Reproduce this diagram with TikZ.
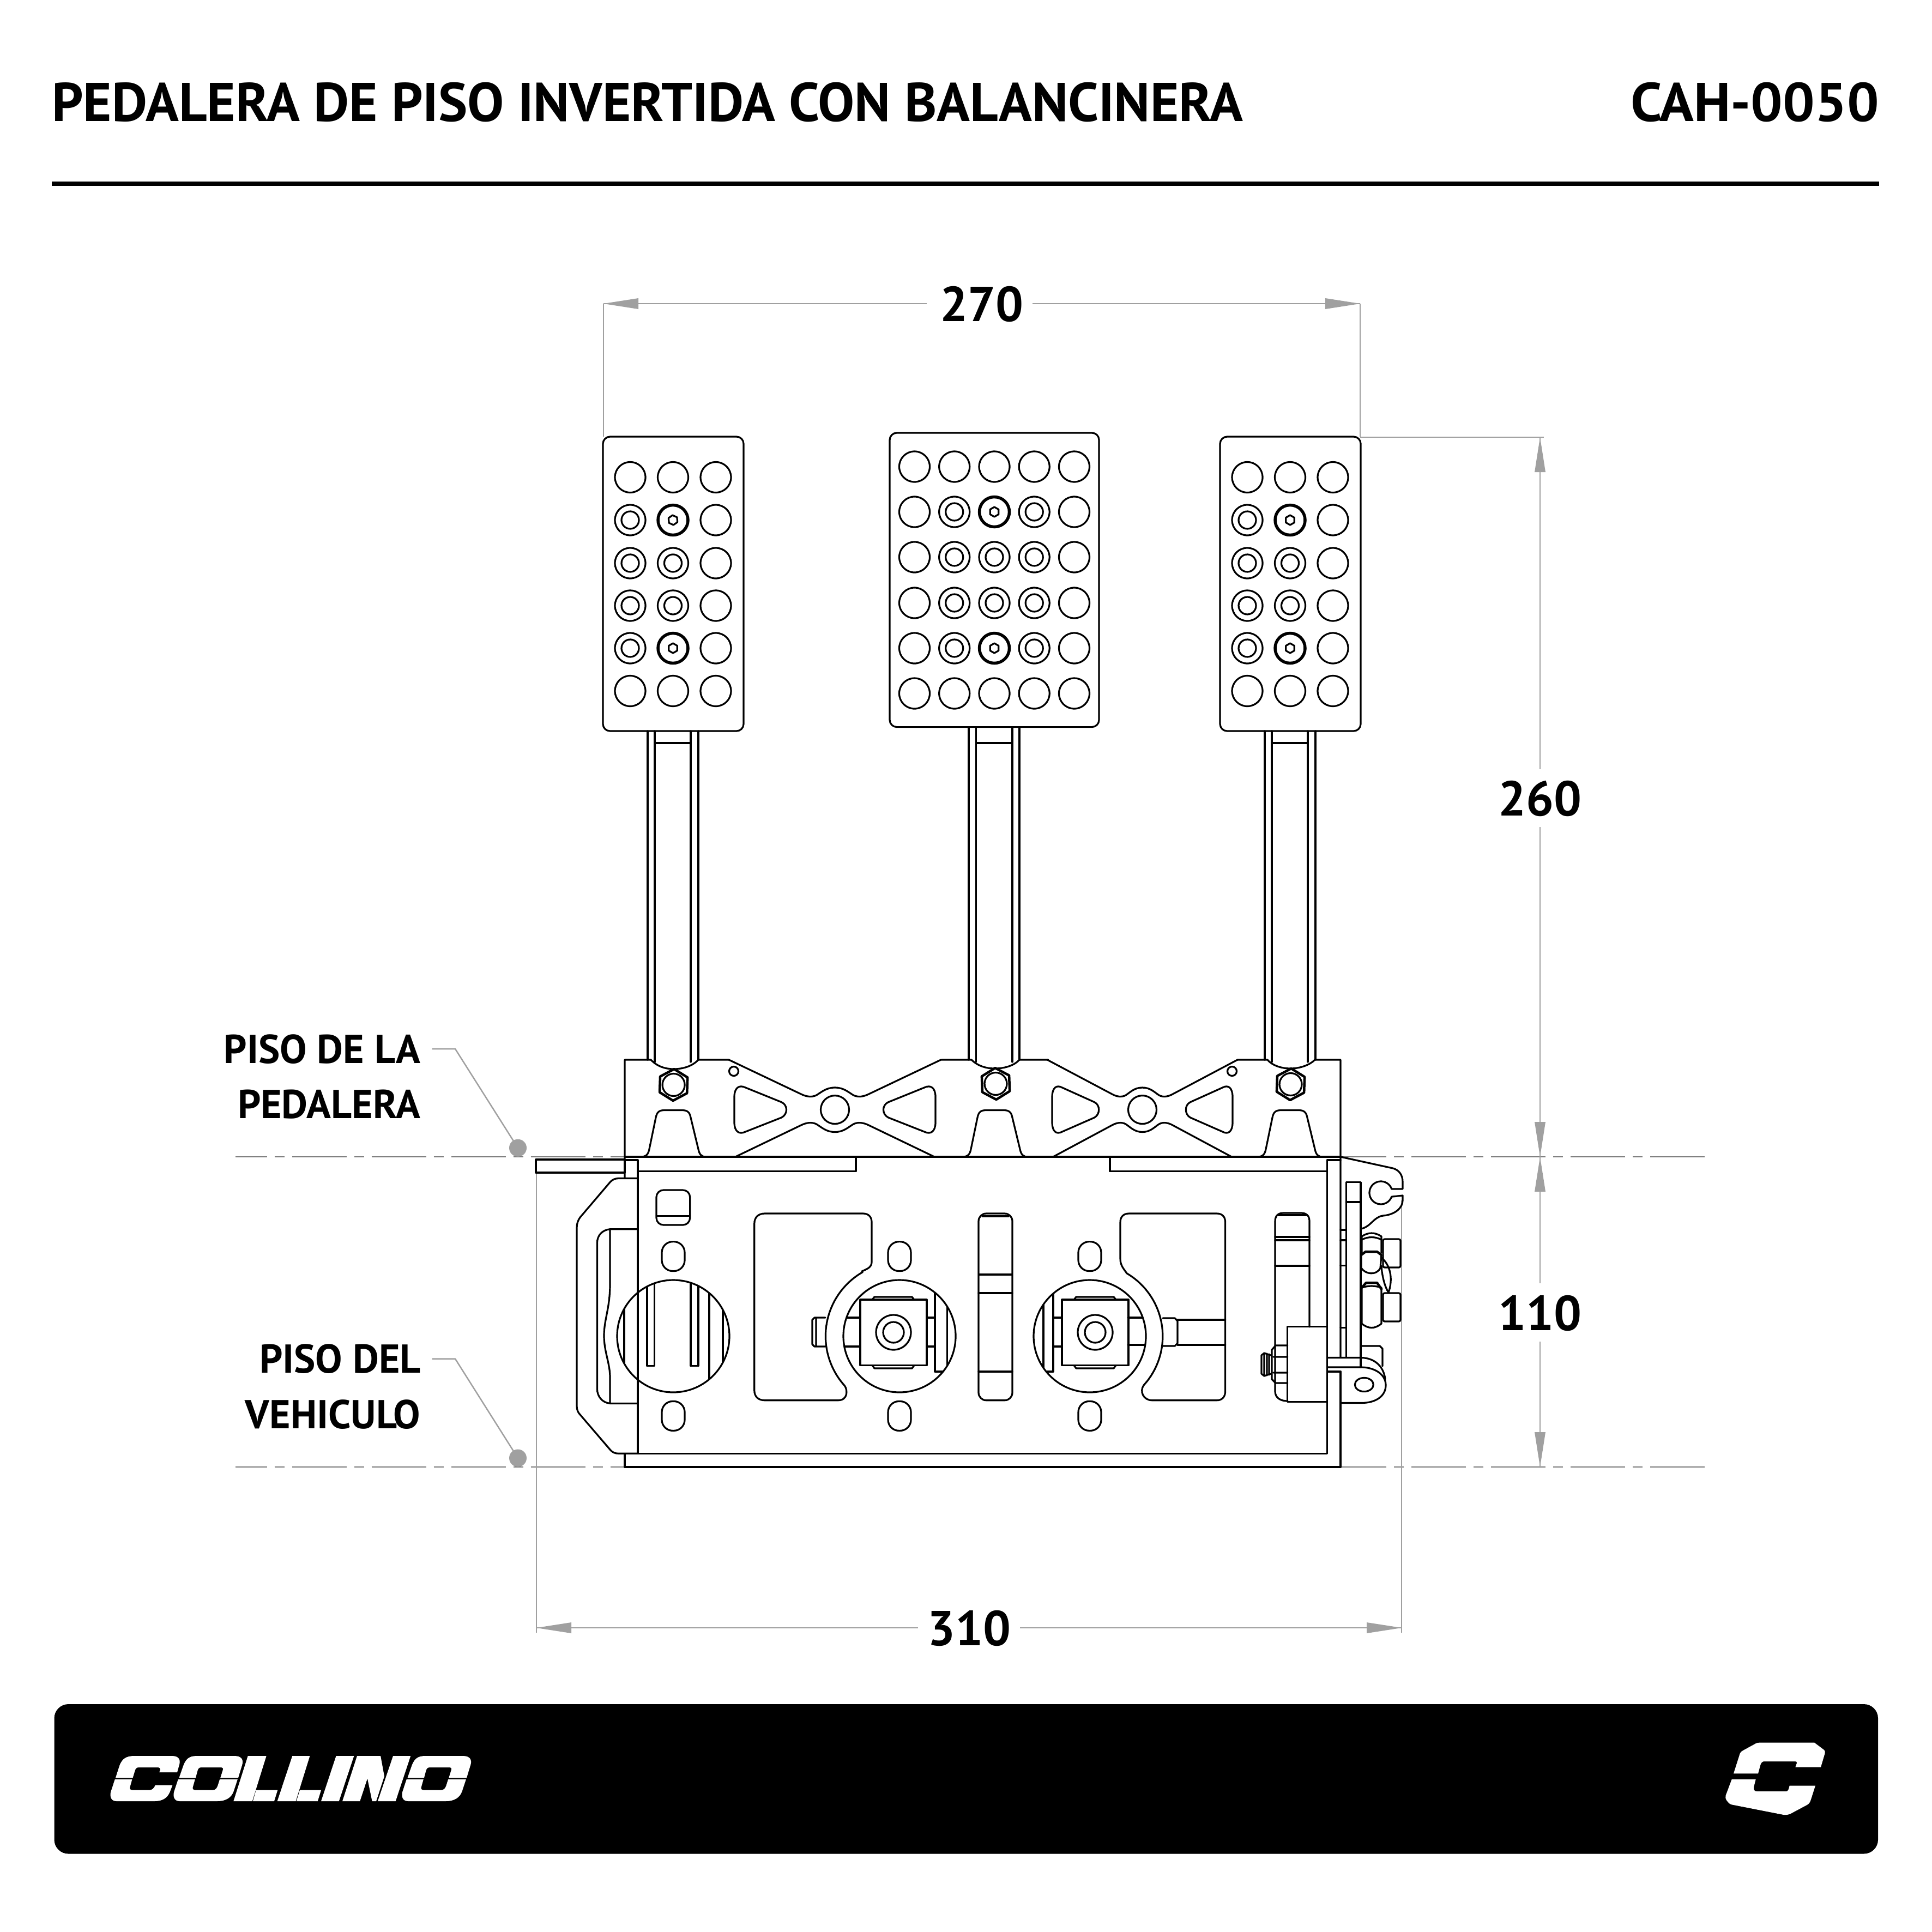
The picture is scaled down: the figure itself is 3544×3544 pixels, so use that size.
\documentclass[tikz,border=0pt]{standalone}
\usepackage{fontspec}
\newfontfamily\dinfont{PT Sans}
\newfontfamily\dintitle{PT Sans}[FakeStretch=1.005]
\newfontfamily\dincode{PT Sans}[FakeStretch=1.036]
\definecolor{dimgray}{HTML}{A0A0A0}
\definecolor{axisgray}{HTML}{7A7A7A}
\tikzset{
  part/.style={draw=black,line width=3.2pt,line join=round,line cap=round},
  heavy/.style={draw=black,line width=4.5pt,line join=round},
  boldring/.style={draw=black,line width=5.5pt},
  dimline/.style={draw=dimgray,line width=2.5pt},
  dimtip/.style={fill=dimgray,draw=none},
  axisline/.style={draw=axisgray,line width=2.5pt,dash pattern=on 100pt off 14pt on 18pt off 14pt},
  titletext/.style={inner sep=0pt,font=\dintitle\bfseries\fontsize{100}{120}\selectfont},
  codetext/.style={inner sep=0pt,font=\dincode\bfseries\fontsize{100}{120}\selectfont},
  labeltext/.style={inner sep=0pt,anchor=base east,font=\dinfont\bfseries\fontsize{74}{88}\selectfont},
  dimtext/.style={inner sep=0pt,font=\dinfont\bfseries\fontsize{90}{100}\selectfont},
}
% hexagon: x y radius rotation
\newcommand{\hexat}[5][part]{\draw[#1,shift={(#2,#3)}] (#5:#4) -- (#5+60:#4) -- (#5+120:#4) -- (#5+180:#4) -- (#5+240:#4) -- (#5+300:#4) -- cycle;}
\newcommand{\ring}[2]{\draw[part] (#1,#2) circle[radius=28];\draw[part] (#1,#2) circle[radius=16];}
\newcommand{\plain}[2]{\draw[part] (#1,#2) circle[radius=28];}
\newcommand{\boltring}[3]{\draw[boldring] (#1,#2) circle[radius=27.5];\hexat{#1}{#2}{9}{#3}}
\newcommand{\sidepedal}[2]{%
 \begin{scope}[shift={(#1,0)}]
  \draw[part,rounded corners=13] (1106,801) rectangle (1364,1341);
  \foreach \yy in {875.5,1267.5}{\foreach \xx in {1156,1234.5,1313}{\plain{\xx}{\yy}}}
  \foreach \yy in {954,1033,1111,1189}{\plain{1313}{\yy}\ring{1156}{\yy}}
  \ring{1234.5}{1033}\ring{1234.5}{1111}
  \boltring{1234.5}{954}{#2}\boltring{1234.5}{1189}{90}
  \draw[part] (1188,1341) -- (1188,1944) (1201,1341) -- (1201,1948) (1267,1341) -- (1267,1948) (1281,1341) -- (1281,1944) (1201,1363) -- (1267,1363);
 \end{scope}}
\newcommand{\arch}[1]{\draw[part,shift={(#1,0)}] (-60,2122) .. controls (-50,2122) and (-46,2118) .. (-44,2108) -- (-32,2050) .. controls (-30,2040) and (-26,2036.5) .. (-16,2036.5) -- (16,2036.5) .. controls (26,2036.5) and (30,2040) .. (32,2050) -- (46,2108) .. controls (48,2118) and (52,2122) .. (60,2122);}
\newcommand{\slotpair}[1]{\foreach \yy in {2304.6,2597.4}{\draw[part,rounded corners=20] (#1-21,\yy-27) rectangle (#1+21,\yy+27);}}
\newcommand{\xmotif}[2]{%
 \begin{scope}[shift={(#1,0)},xscale=#2]
  \draw[part] (-194.5,1944) -- (-62,2007) .. controls (-52,2012) and (-42,2013) .. (-34,2009) .. controls (-24,2003) and (-16,1995) .. (0,1995) .. controls (16,1995) and (24,2003) .. (34,2009) .. controls (42,2013) and (52,2012) .. (62,2007) -- (194.5,1944);
  \draw[part] (-182.5,2122) -- (-62,2064) .. controls (-52,2059) and (-42,2058) .. (-34,2062) .. controls (-24,2068) and (-16,2076.5) .. (0,2076.5) .. controls (16,2076.5) and (24,2068) .. (34,2062) .. controls (42,2058) and (52,2059) .. (62,2064) -- (182.5,2122);
  \foreach \ss in {1,-1}{
  \draw[part,xscale=\ss] (-184.5,2012) .. controls (-184.5,1996) and (-176,1989) .. (-164,1995) -- (-98,2021.7) .. controls (-86,2027) and (-86,2044) .. (-98,2050) -- (-164,2076) .. controls (-176,2082) and (-184.5,2075) .. (-184.5,2059) -- cycle;}
 \end{scope}
 \draw[part] (#1,2035.6) circle[radius=26];}
\newcommand{\ologo}{%
 \fill[white] (398,484) -- (412,415) .. controls (420,380) and (430,363) .. (455,363) -- (575,363) .. controls (598,363) and (604,385) .. (600,410) -- (587,484) -- (530,484) -- (538,440) .. controls (540,430) and (537,426) .. (530,426) -- (470,426) .. controls (462,426) and (459,432) .. (457,445) -- (451,484) -- cycle;
 \fill[white] (395,492) -- (449,492) -- (442,535) .. controls (440,546) and (444,551) .. (452,551) -- (505,551) .. controls (515,551) and (519,540) .. (522,525) -- (528,492) -- (585,492) -- (572,560) .. controls (565,590) and (550,612) .. (520,612) -- (400,612) .. controls (382,612) and (378,585) .. (382,560) -- cycle;}
\begin{document}
\begin{tikzpicture}[x=1pt,y=-1pt]
\useasboundingbox (0,0) rectangle (3544,3544);
\fill[white] (0,0) rectangle (3544,3544);
% header
\node[titletext,anchor=base west] (title) at (95,222) {PEDALERA DE PISO INVERTIDA CON BALANCINERA};
\node[codetext,anchor=base east] (code) at (3447,222) {CAH-0050};
\draw[line width=7.5pt,black] (95,337) -- (3447,337);
% footer band
\fill[black,rounded corners=26] (99.5,3126) rectangle (3445,3400.5);
\begin{scope}[shift={(100,3100)},xscale=0.574,yscale=0.3333]
 % C
 \fill[white] (195,484) -- (208,415) .. controls (216,380) and (228,363) .. (255,363) -- (375,363) .. controls (398,363) and (403,385) .. (399,410) -- (392,453) -- (335,453) -- (338,438) .. controls (339,430) and (335,426) .. (328,426) -- (270,426) .. controls (262,426) and (259,432) .. (257,445) -- (250,484) -- cycle;
 \fill[white] (193,492) -- (248,492) -- (241,535) .. controls (239,546) and (243,551) .. (251,551) -- (303,551) .. controls (313,551) and (318,540) .. (322,524) -- (377,524) -- (369,560) .. controls (362,590) and (348,612) .. (320,612) -- (198,612) .. controls (180,612) and (176,585) .. (180,560) -- cycle;
 \ologo
 \begin{scope}[shift={(730,0)}]\ologo\end{scope}
 % L L I N
 \fill[white] (618,363) -- (677,363) -- (632,612) -- (572,612) -- cycle;
 \fill[white] (644,551) -- (713,551) -- (702,612) -- (634,612) -- cycle;
 \fill[white] (760,363) -- (816,363) -- (771,612) -- (712,612) -- cycle;
 \fill[white] (784,551) -- (852,551) -- (841,612) -- (773,612) -- cycle;
 \fill[white] (900,363) -- (957,363) -- (909,612) -- (852,612) -- cycle;
 \fill[white] (967,363) -- (1042,363) -- (1054,475) -- (1028,612) -- (1015,612) -- (1000,487) -- (976,612) -- (920,612) -- cycle;
 \fill[white] (1082,363) -- (1138,363) -- (1090,612) -- (1033,612) -- cycle;
\end{scope}
\begin{scope}[shift={(3100,3150)},xscale=0.3333,yscale=0.3333]
 \fill[white] (240,310) -- (275,200) .. controls (280,190) and (285,187) .. (292,183) -- (365,143) .. controls (372,140) and (378,140) .. (385,140) -- (685,140) -- (738,180) .. controls (743,185) and (745,190) .. (743,197) -- (720,275) -- (580,275) -- (588,253) .. controls (590,246) and (586,243) .. (580,243) -- (410,243) .. controls (398,243) and (392,250) .. (388,262) -- (375,310) -- cycle;
 \fill[white] (230,342) -- (362,342) -- (351,385) .. controls (349,400) and (355,408) .. (370,408) -- (530,408) .. controls (540,408) and (544,395) .. (548,377) -- (690,377) -- (665,455) .. controls (660,470) and (655,478) .. (640,485) -- (552,532) .. controls (540,537) and (530,538) .. (515,537) -- (230,481) .. controls (218,478) and (212,472) .. (200,455) .. controls (195,445) and (195,440) .. (197,430) -- cycle;
\end{scope}
% axis lines
\foreach \yy in {2122,2691}{
 \draw[axisline,dash phase=42pt] (431.5,\yy) -- (1146,\yy);
 \draw[axisline] (3127,\yy) -- (2459,\yy);
}
% dimensions
\draw[dimline] (1107,557) -- (1107,801) (2495,557) -- (2495,801);
\draw[dimline] (1107,557) -- (1700,557) (1894,557) -- (2495,557);
\fill[dimtip] (1107,557) -- (1171,547) -- (1171,567) -- cycle;
\fill[dimtip] (2495,557) -- (2431,547) -- (2431,567) -- cycle;
\node[dimtext] (d270) at (1801,558) {270};
\draw[dimline] (2495,802) -- (2832,802);
\draw[dimline] (2825,802) -- (2825,1411) (2825,1517) -- (2825,2122) (2825,2122) -- (2825,2354) (2825,2461) -- (2825,2691);
\fill[dimtip] (2825,802) -- (2815,866) -- (2835,866) -- cycle;
\fill[dimtip] (2825,2122) -- (2815,2058) -- (2835,2058) -- cycle;
\fill[dimtip] (2825,2122) -- (2815,2186) -- (2835,2186) -- cycle;
\fill[dimtip] (2825,2691) -- (2815,2627) -- (2835,2627) -- cycle;
\node[dimtext] (d260) at (2825,1465) {260};
\node[dimtext] (d110) at (2825,2409) {110};
\draw[dimline] (984,2151) -- (984,2995) (2571,2202) -- (2571,2995);
\draw[dimline] (984,2986) -- (1684,2986) (1871,2986) -- (2571,2986);
\fill[dimtip] (984,2986) -- (1048,2976) -- (1048,2996) -- cycle;
\fill[dimtip] (2571,2986) -- (2507,2976) -- (2507,2996) -- cycle;
\node[dimtext] (d310) at (1778,2987) {310};
% floor labels
\node[labeltext] (l1) at (771,1950.5) {PISO DE LA};
\node[labeltext] (l2) at (771,2051) {PEDALERA};
\node[labeltext] (l3) at (772,2518) {PISO DEL};
\node[labeltext] (l4) at (771,2620) {VEHICULO};
\fill[dimgray] (950,2105.7) circle[radius=16];
\fill[dimgray] (950,2674.6) circle[radius=16];
\draw[dimline,line join=round] (792.6,1924) -- (835,1924) -- (950,2105.7);
\draw[dimline,line join=round] (792.6,2492.5) -- (835,2492.5) -- (950,2674.6);
% pedals
\sidepedal{0}{85}
\sidepedal{1132}{90}
\draw[part,rounded corners=13] (1632,794) rectangle (2016,1333.6);
\foreach \yy in {856,939,1022,1106,1189,1272}{\plain{1677.5}{\yy}\plain{1970.5}{\yy}}
\foreach \xx in {1750.7,1824,1897.2}{\plain{\xx}{856}\plain{\xx}{1272}}
\foreach \yy in {939,1022,1106,1189}{\ring{1750.7}{\yy}\ring{1897.2}{\yy}}
\ring{1824}{1022}\ring{1824}{1106}
\boltring{1824}{939}{90}\boltring{1824}{1189}{90}
\draw[part] (1777,1333.6) -- (1777,1944) (1790.5,1333.6) -- (1790.5,1948) (1857,1333.6) -- (1857,1948) (1870,1333.6) -- (1870,1944) (1790.5,1363) -- (1857,1363);
% upper bracket outline
\draw[part] (1146,2161) -- (1146,1944) -- (1194,1944) .. controls (1205,1956) and (1220,1961) .. (1236,1961) .. controls (1252,1961) and (1270,1956) .. (1281,1944) -- (1337,1944);
\draw[part] (1727,1944) -- (1782,1944) .. controls (1793,1955) and (1808,1960) .. (1825,1960) .. controls (1842,1960) and (1860,1955) .. (1870,1944) -- (1923,1944);
\draw[part] (2270,1944) -- (2325,1944) .. controls (2333,1954) and (2350,1960) .. (2367,1960) .. controls (2384,1960) and (2402,1954) .. (2412,1944) -- (2459,1944) -- (2459,2490);
\xmotif{1531.5}{1}
\xmotif{2095.5}{0.897}
\draw[part] (1346,1965) circle[radius=8.5];
\draw[part] (2260,1965) circle[radius=8.5];
\foreach \xx/\yy/\rr in {1235.6/1990/92,1826.5/1988/88,2367.5/1989/92}{
 \hexat[heavy]{\xx}{\yy}{29}{\rr}
 \draw[part] (\xx,\yy) circle[radius=20.5];
}
\arch{1235}\arch{1825}\arch{2366}
\draw[heavy] (1146,2122) -- (2459,2122);
% base plate
\draw[part] (983,2127) rectangle (1146,2151);
\draw[part] (1146,2128) -- (1170,2128) -- (1170,2666.3) -- (2434.4,2666.3) -- (2434.4,2128) -- (2459,2128);
\draw[part] (1146,2161.5) -- (1170,2161.5);
\draw[heavy] (1146,2666.3) -- (1146,2691) -- (2459,2691) -- (2459,2516) -- (2434.4,2516);
\draw[part] (1170,2148.5) -- (1570,2148.5) -- (1570,2122);
\draw[part] (2036,2122) -- (2036,2148.5) -- (2434.4,2148.5);
% left bracket
\draw[part] (1170,2161.5) -- (1135,2161.5) .. controls (1128,2161.5) and (1123,2164) .. (1119,2168.6) -- (1065,2232) .. controls (1060,2238) and (1058,2245) .. (1058,2252) -- (1058,2579) .. controls (1058,2586) and (1060,2591) .. (1065,2596) -- (1119,2659) .. controls (1123,2664) and (1128,2666.3) .. (1135,2666.3) -- (1170,2666.3);
\draw[part] (1170,2254.7) -- (1119,2254.7) .. controls (1105,2256) and (1095.4,2266) .. (1095.4,2280) -- (1095.4,2547.5) .. controls (1095.4,2562) and (1105,2573) .. (1119,2574.4) -- (1170,2574.4);
\draw[part] (1119,2254.7) -- (1119,2355) .. controls (1119,2400) and (1108,2420) .. (1108,2450) .. controls (1108,2480) and (1119,2500) .. (1119,2527) -- (1119,2574.4);
\draw[part,rounded corners=13] (1204,2183) rectangle (1265.7,2247);
\draw[part] (1204,2230.6) -- (1265.7,2230.6);
\slotpair{1235}\slotpair{1650}\slotpair{1999}
% big circles
\foreach \xx in {1235,1650,1999}{\draw[part] (\xx,2451) circle[radius=103];}
\begin{scope}
 \clip (1235,2451) circle[radius=103];
 \draw[part] (1145,2340) -- (1145,2560) (1170,2340) -- (1170,2560) (1301,2340) -- (1301,2560) (1326,2340) -- (1326,2560);
 \draw[part] (1187,2340) -- (1187,2505.6) -- (1200.6,2505.6) -- (1200.6,2340);
 \draw[part] (1267,2340) -- (1267,2505.6) -- (1281,2505.6) -- (1281,2340);
\end{scope}
\begin{scope}
 \clip (1650,2451) circle[radius=103];
 \draw[part] (1715,2340) -- (1715,2516) -- (1737.6,2516) (1737.6,2340) -- (1737.6,2560);
 \draw[part] (1540,2417) -- (1578,2417) (1540,2470) -- (1578,2470) (1700,2417) -- (1715,2417) (1700,2470) -- (1715,2470);
\end{scope}
\begin{scope}
 \clip (1999,2451) circle[radius=103];
 \draw[part] (1914,2340) -- (1914,2516) -- (1932,2516) -- (1932,2340);
 \draw[part] (1932,2417) -- (1948,2417) (1932,2470) -- (1948,2470) (2069,2417) -- (2110,2417) (2069,2467) -- (2110,2467);
\end{scope}
\foreach \xx in {1578,1948}{
 \draw[part] (\xx,2384) rectangle (\xx+122,2504.4);
 \draw[part] (\xx+22,2384) -- (\xx+26,2379) -- (\xx+95,2379) -- (\xx+99,2384);
 \draw[part] (\xx+22,2504.4) -- (\xx+26,2510) -- (\xx+95,2510) -- (\xx+99,2504.4);
 \draw[part] (\xx+61,2444) circle[radius=32];
 \draw[part] (\xx+61,2444) circle[radius=19];
}
% windows
\draw[part] (1403,2226) -- (1583,2226) .. controls (1593,2226) and (1599,2232) .. (1599,2242) -- (1599,2315) .. controls (1599,2325) and (1590,2328) .. (1581,2332) -- plot[domain=120:222,samples=40] ({1650+135.6*cos(\x)},{2451-135.6*sin(\x)}) .. controls (1555,2549) and (1556,2568.7) .. (1537,2568.7) -- (1403,2568.7) .. controls (1391,2568.7) and (1383.7,2562) .. (1383.7,2550) -- (1383.7,2245) .. controls (1383.7,2233) and (1391,2226) .. (1403,2226) -- cycle;
\draw[part] (2071,2226) -- (2232,2226) .. controls (2242,2226) and (2247.6,2232) .. (2247.6,2242) -- (2247.6,2552) .. controls (2247.6,2562) and (2242,2568.7) .. (2232,2568.7) -- (2113.6,2568.7) .. controls (2097,2568.7) and (2090,2552) .. (2098,2541) -- plot[domain=-38:59.5,samples=40] ({1999+133.8*cos(\x)},{2451-133.8*sin(\x)}) .. controls (2062,2328) and (2055,2322) .. (2055,2309) -- (2055,2242) .. controls (2055,2232) and (2061,2226) .. (2071,2226) -- cycle;
% shaft heads
\draw[part] (1514,2417) -- (1494,2417) -- (1490,2421) -- (1490,2466) -- (1494,2470) -- (1514,2470) (1497,2417) -- (1497,2470);
\draw[part] (2133,2418) -- (2155,2418) -- (2160,2423) -- (2160,2464) -- (2155,2469) -- (2133,2469);
\draw[part] (2160,2421) -- (2247.6,2421) (2160,2467) -- (2247.6,2467);
% centre slot
\draw[part,rounded corners=14] (1795,2226) rectangle (1857,2568.7);
\draw[part] (1802,2231) -- (1850,2231) (1795,2372) -- (1857,2372) (1795,2516) -- (1857,2516);
\draw[heavy] (1795,2338) -- (1857,2338);
% cylinder
\draw[part] (2362,2570) .. controls (2350,2570) and (2339,2565) .. (2339,2552) -- (2339,2240) .. controls (2339,2230) and (2345,2225) .. (2354,2225) -- (2387,2225) .. controls (2396,2225) and (2402,2230) .. (2402,2240) -- (2402,2434);
\draw[part] (2339,2269) -- (2402,2269) (2339,2275) -- (2402,2275) (2339,2322) -- (2402,2322);
\draw[part] (2345,2229) -- (2396,2229);
\draw[part] (2361.7,2433.8) rectangle (2434.4,2571.6);
\draw[part] (2361.7,2468) -- (2340,2468) -- (2333,2476) -- (2333,2530) -- (2340,2537) -- (2361.7,2537) (2336,2489) -- (2361.7,2489) (2336,2518) -- (2361.7,2518);
\draw[part] (2331,2486) -- (2319,2482) -- (2314,2486) -- (2314,2520) -- (2319,2524) -- (2331,2520) (2319,2482) -- (2319,2524) (2324,2483) -- (2324,2523) (2328,2484) -- (2328,2522);
% right hand lever
\draw[part] (2469.3,2490) -- (2469.3,2168.6) -- (2496,2168.6) -- (2496,2508) (2469.3,2205) -- (2496,2205);
\draw[part] (2459,2256) -- (2469.3,2256) (2459,2275) -- (2469.3,2275) (2459,2321.7) -- (2469.3,2321.7) (2459,2435.7) -- (2469.3,2435.7);
\draw[part] (2434.4,2490.5) -- (2496,2490.5) .. controls (2520,2490.5) and (2538,2505) .. (2541,2530);
\draw[part] (2434.4,2508) -- (2497,2508) .. controls (2520,2508) and (2542,2520) .. (2542,2541) .. controls (2542,2560) and (2525,2573.5) .. (2497,2573.5) -- (2459,2573.5);
\draw[part] (2502.3,2540) ellipse[x radius=17,y radius=12.6];
\draw[part] (2497,2469) -- (2531,2469) -- (2536,2474) -- (2536,2506);
% spring bracket
\draw[part] (2459,2122) -- (2555,2143) .. controls (2566,2146) and (2573,2155) .. (2573,2168) -- (2573,2181) -- (2553,2181) -- plot[domain=20:340,samples=40] ({2533+21*cos(\x)},{2188-21*sin(\x)}) -- (2573,2193) -- (2573,2202) .. controls (2573,2215) and (2560,2228) .. (2537,2230) .. controls (2520,2232) and (2515,2250) .. (2497,2254);
% side bolts
\draw[part] (2498,2300) -- (2498,2268) .. controls (2510,2260) and (2522,2260) .. (2534,2268) -- (2534,2298);
\draw[part] (2498,2274) .. controls (2510,2268) and (2522,2268) .. (2534,2274);
\draw[heavy] (2497,2302) -- (2505,2296) -- (2526,2296) -- (2534,2302);
\draw[part] (2497,2302) -- (2497,2326) .. controls (2505,2338) and (2525,2340) .. (2532,2326) -- (2534,2302);
\draw[part,rounded corners=3] (2537,2273) rectangle (2569,2325);
\draw[part,rounded corners=3] (2537,2372) rectangle (2569,2424);
\draw[heavy] (2498,2362) -- (2506,2353) -- (2526,2353) -- (2535,2366);
\draw[part] (2498,2362) .. controls (2510,2358) and (2522,2358) .. (2534,2362);
\draw[part] (2498,2360) -- (2498,2428) .. controls (2510,2438) and (2522,2438) .. (2534,2428) -- (2534,2362);
\draw[part] (2534,2307) .. controls (2550,2320) and (2556,2345) .. (2547,2371) (2534,2322) .. controls (2535,2340) and (2540,2360) .. (2547,2371);
\end{tikzpicture}
\end{document}
